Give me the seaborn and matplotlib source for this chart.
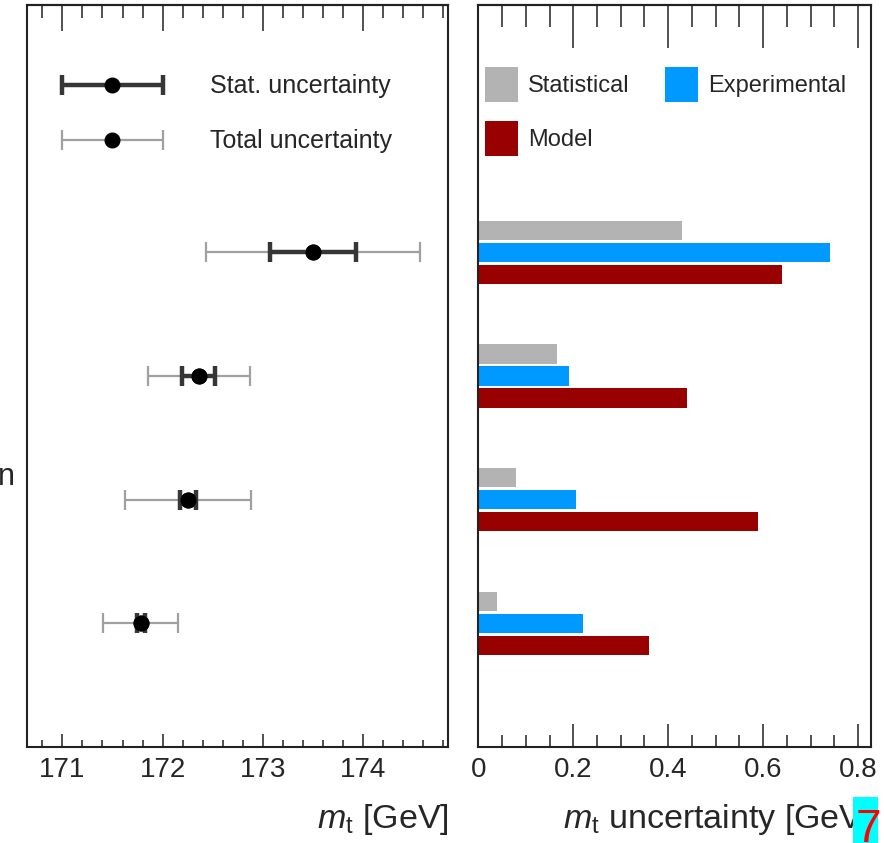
import numpy as np
import pandas as pd
import matplotlib
matplotlib.use("Agg")
import matplotlib.pyplot as plt
import seaborn as sns
from matplotlib.legend_handler import HandlerErrorbar
from matplotlib.ticker import MultipleLocator
from matplotlib.patches import Rectangle

# ---------------- data ----------------
measurements = ["Measurement 1", "Measurement 2", "Measurement 3", "Measurement 4"]
mt_central = [173.50, 172.36, 172.25, 171.78]
stat_unc = [0.43, 0.165, 0.08, 0.04]
total_unc = [1.07, 0.51, 0.63, 0.37]
exp_unc = [0.74, 0.19, 0.205, 0.22]
model_unc = [0.64, 0.44, 0.59, 0.36]
sources = ["Statistical", "Experimental", "Model"]
source_colors = ["#b3b3b3", "#0099ff", "#990000"]
mt_ticks = [171, 172, 173, 174]
unc_ticks = [0, 0.2, 0.4, 0.6, 0.8]
unc_tick_labels = ["0", "0.2", "0.4", "0.6", "0.8"]

sns.set_theme(style="white")
plt.rcParams["font.family"] = ["Liberation Sans", "DejaVu Sans"]
plt.rcParams["mathtext.fontset"] = "custom"
plt.rcParams["mathtext.rm"] = "Liberation Sans"
plt.rcParams["mathtext.it"] = "Liberation Sans:italic"

W, H = 884, 843
fig = plt.figure(figsize=(W / 100, H / 100), dpi=100)

def fx(px):
    return px / W

def fy(px):
    return 1 - px / H

top_px, bot_px = 5, 747
axL = fig.add_axes([fx(27.3), fy(bot_px), fx(448.3) - fx(27.3), fy(top_px) - fy(bot_px)])
axR = fig.add_axes([fx(478.3), fy(bot_px), fx(871) - fx(478.3), fy(top_px) - fy(bot_px)])

spine_c = "#222222"
for ax in (axL, axR):
    for s in ax.spines.values():
        s.set_color(spine_c)
        s.set_linewidth(1.5)
    ax.set_facecolor("white")

# ---------------- left panel ----------------
ypos = np.arange(len(measurements))
tot = axL.errorbar(mt_central, ypos, xerr=total_unc, fmt="o", color="black",
                   ms=10.5, ecolor="#a0a0a0", elinewidth=1.6, capsize=7, capthick=1.6,
                   zorder=2, label="Total uncertainty")
sta = axL.errorbar(mt_central, ypos, xerr=stat_unc, fmt="o", color="black",
                   ms=10.5, ecolor="#363636", elinewidth=3.2, capsize=7.5, capthick=3.2,
                   zorder=3, label="Stat. uncertainty")
sns.scatterplot(x=mt_central, y=ypos, ax=axL, color="black", s=115, zorder=4,
                edgecolor="black", linewidth=0, legend=False)

axL.set_xlim(170.65, 174.85)
axL.set_ylim(4, -2)
axL.set_yticks([])
axL.set_xticks(mt_ticks)
axL.xaxis.set_minor_locator(MultipleLocator(0.2))
axL.tick_params(axis="x", which="major", direction="in", length=9.5, width=1.1,
                labelsize=20, pad=7, color=spine_c, bottom=True)
axL.tick_params(axis="x", which="minor", direction="in", length=5, width=1.1,
                color=spine_c, bottom=True)
axL.set_xlabel(r"$m_{\mathrm{t}}$ [GeV]", fontsize=24.5, loc="right", labelpad=14)

secL = axL.secondary_xaxis("top")
secL.set_xticks(mt_ticks)
secL.xaxis.set_minor_locator(MultipleLocator(0.2))
secL.tick_params(axis="x", which="major", direction="in", length=18.5, width=1.1,
                 labeltop=False, color=spine_c)
secL.tick_params(axis="x", which="minor", direction="in", length=9.5, width=1.1,
                 color=spine_c)
secL.spines["top"].set_linewidth(1.5)
secL.spines["top"].set_color(spine_c)

legL = axL.legend(handles=[sta, tot], labels=["Stat. uncertainty", "Total uncertainty"],
                  handler_map={type(sta): HandlerErrorbar(xerr_size=2.02)},
                  loc="upper left", bbox_to_anchor=(0.0824, 0.9066), borderaxespad=0,
                  borderpad=0, frameon=False, fontsize=18, handlelength=4.04,
                  handletextpad=1.88, labelspacing=1.24)

# ---------------- right panel ----------------
df = pd.DataFrame({
    "measurement": measurements * 3,
    "source": [sources[0]] * 4 + [sources[1]] * 4 + [sources[2]] * 4,
    "value": stat_unc + exp_unc + model_unc,
})
sns.barplot(data=df, y="measurement", x="value", hue="source", hue_order=sources,
            palette=source_colors, orient="h", width=0.533, gap=0.13,
            linewidth=0, saturation=1, ax=axR, legend=False)
axR.set_ylim(3 + 1, -2)
axR.set_yticks([])
axR.set_ylabel("")
axR.set_xlim(0, 0.827)
axR.set_xticks(unc_ticks)
axR.set_xticklabels(unc_tick_labels)
axR.xaxis.set_minor_locator(MultipleLocator(0.05))
axR.tick_params(axis="x", which="major", direction="in", length=16.8, width=1.1,
                labelsize=20, pad=7, color=spine_c, bottom=True)
axR.tick_params(axis="x", which="minor", direction="in", length=8.6, width=1.1,
                color=spine_c, bottom=True)
axR.set_xlabel(r"$m_{\mathrm{t}}$ uncertainty [GeV]", fontsize=24.5, loc="right", labelpad=14)

secR = axR.secondary_xaxis("top")
secR.set_xticks(unc_ticks)
secR.xaxis.set_minor_locator(MultipleLocator(0.05))
secR.tick_params(axis="x", which="major", direction="in", length=31, width=1.1,
                 labeltop=False, color=spine_c)
secR.tick_params(axis="x", which="minor", direction="in", length=15.8, width=1.1,
                 color=spine_c)
secR.spines["top"].set_linewidth(1.5)
secR.spines["top"].set_color(spine_c)

conts = axR.containers
legR = axR.legend(handles=[conts[0], conts[2], conts[1]],
                  labels=[sources[0], sources[2], sources[1]],
                  ncol=2, loc="upper left", bbox_to_anchor=(0.017, 0.9164),
                  borderaxespad=0, borderpad=0, frameon=False, fontsize=17,
                  handlelength=1.4, handleheight=1.89, handletextpad=0.42,
                  labelspacing=0.8, columnspacing=1.5)

# ---------------- stray page elements ----------------
fig.text(fx(-2), fy(477), "n", fontsize=22, ha="left", va="center")
fig.patches.append(Rectangle((fx(853), 0), fx(878) - fx(853), 46 / H,
                             transform=fig.transFigure, facecolor="#00ffff",
                             edgecolor="none", zorder=10))
fig.text(fx(868), fy(842), "7", fontsize=33, color="#ff0000", ha="center",
         va="baseline", zorder=11)

fig.savefig("out.png", dpi=100)
